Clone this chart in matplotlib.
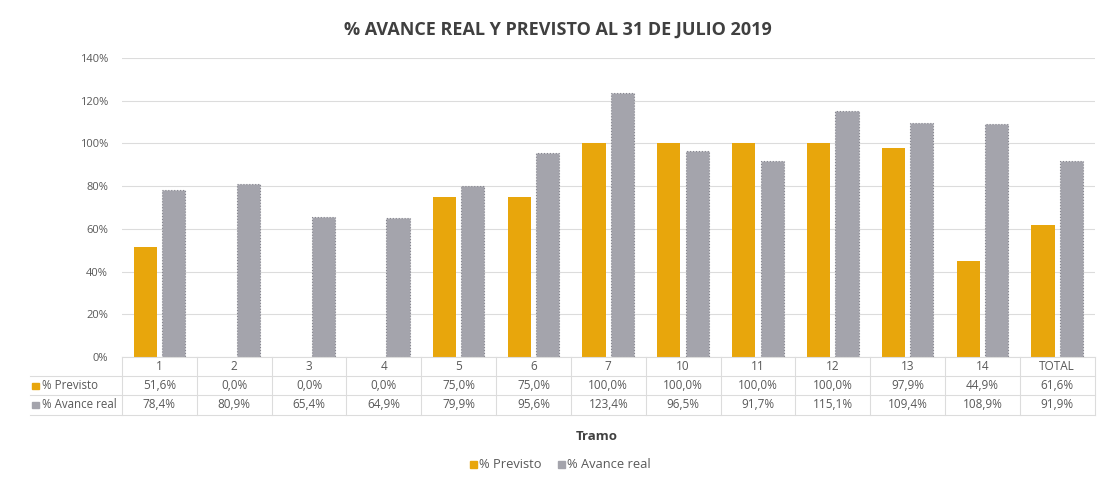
import matplotlib.pyplot as plt
import matplotlib.transforms as mtransforms
from matplotlib.patches import Rectangle
from matplotlib.lines import Line2D
import numpy as np

# datos del gráfico
tramos = ["1", "2", "3", "4", "5", "6", "7", "10", "11", "12", "13", "14", "TOTAL"]
previsto = [51.6, 0.0, 0.0, 0.0, 75.0, 75.0, 100.0, 100.0, 100.0, 100.0, 97.9, 44.9, 61.6]
avance_real = [78.4, 80.9, 65.4, 64.9, 79.9, 95.6, 123.4, 96.5, 91.7, 115.1, 109.4, 108.9, 91.9]

C_PREV = "#E8A60C"
C_REAL = "#A4A4AC"
C_REAL_EDGE = "#85858E"
C_TXT = "#595959"
C_GRID = "#DCDCDC"

plt.rcParams['font.family'] = ['Open Sans', 'DejaVu Sans']

fig = plt.figure(figsize=(11.09, 4.79), dpi=100)
ax = fig.add_axes([0.110, 0.2547, 0.877, 0.6243])

x = np.arange(len(tramos))
w = 0.31
ax.bar(x - 0.19, previsto, w, color=C_PREV, zorder=3)
ax.bar(x + 0.19, avance_real, w, color=C_REAL, edgecolor=C_REAL_EDGE,
       linewidth=0.8, linestyle=":", zorder=3)

ax.set_xlim(-0.5, len(tramos) - 0.5)
ax.set_ylim(0, 140)
ax.set_yticks(range(0, 141, 20))
ax.set_yticklabels([f"{v}%" for v in range(0, 141, 20)], fontsize=8, color=C_TXT)
ax.set_xticks([])
ax.grid(axis="y", color=C_GRID, linewidth=0.8, zorder=0)
for s in ax.spines.values():
    s.set_visible(False)
ax.tick_params(axis="y", length=0, pad=10)

# tabla de datos bajo el eje
tr = mtransforms.blended_transform_factory(ax.transData, fig.transFigure)
trf = fig.transFigure

def fy(px):
    return 1 - px / 479

y_top, y_r1, y_r2, y_bot = fy(357), fy(376), fy(395), fy(415)
for b in np.arange(-0.5, len(tramos), 1.0):
    ax.add_line(Line2D([b, b], [y_bot, y_top], transform=tr, color=C_GRID,
                       linewidth=0.8, clip_on=False))
for yy in [y_top, y_r1, y_r2, y_bot]:
    x0 = 30 / 1109 if yy != y_top else 122 / 1109
    fig.add_artist(Line2D([x0, 1095 / 1109], [yy, yy], transform=trf,
                          color=C_GRID, linewidth=0.8))

for i, t in enumerate(tramos):
    ax.text(i, fy(367), t, transform=tr, ha="center", va="center",
            fontsize=8.5, color=C_TXT)
    ax.text(i, fy(385.5), f"{previsto[i]:.1f}%".replace(".", ","), transform=tr,
            ha="center", va="center", fontsize=8.5, color=C_TXT)
    ax.text(i, fy(405), f"{avance_real[i]:.1f}%".replace(".", ","), transform=tr,
            ha="center", va="center", fontsize=8.5, color=C_TXT)

# claves de la tabla
for yy, lab, col in [(385.5, "% Previsto", C_PREV), (405, "% Avance real", C_REAL)]:
    fig.add_artist(Rectangle((32 / 1109, fy(yy) - 3 / 479), 7 / 1109, 6 / 479,
                             transform=trf, color=col))
    fig.text(42 / 1109, fy(yy), lab, ha="left", va="center", fontsize=8.3, color=C_TXT)

fig.text(0.503, fy(30), "% AVANCE REAL Y PREVISTO AL 31 DE JULIO 2019",
         ha="center", va="center", fontsize=13, fontweight="bold", color="#404040")
fig.text(0.538, fy(437), "Tramo", ha="center", va="center", fontsize=9.5,
         fontweight="bold", color="#404040")

# leyenda
for x0, lab, col in [(470, "% Previsto", C_PREV), (558, "% Avance real", C_REAL)]:
    fig.add_artist(Rectangle((x0 / 1109, fy(464) - 3.5 / 479), 7 / 1109, 7 / 479,
                             transform=trf, color=col))
    fig.text((x0 + 9) / 1109, fy(464), lab, ha="left", va="center", fontsize=9.3,
             color=C_TXT)

fig.savefig("out.png", dpi=100)
